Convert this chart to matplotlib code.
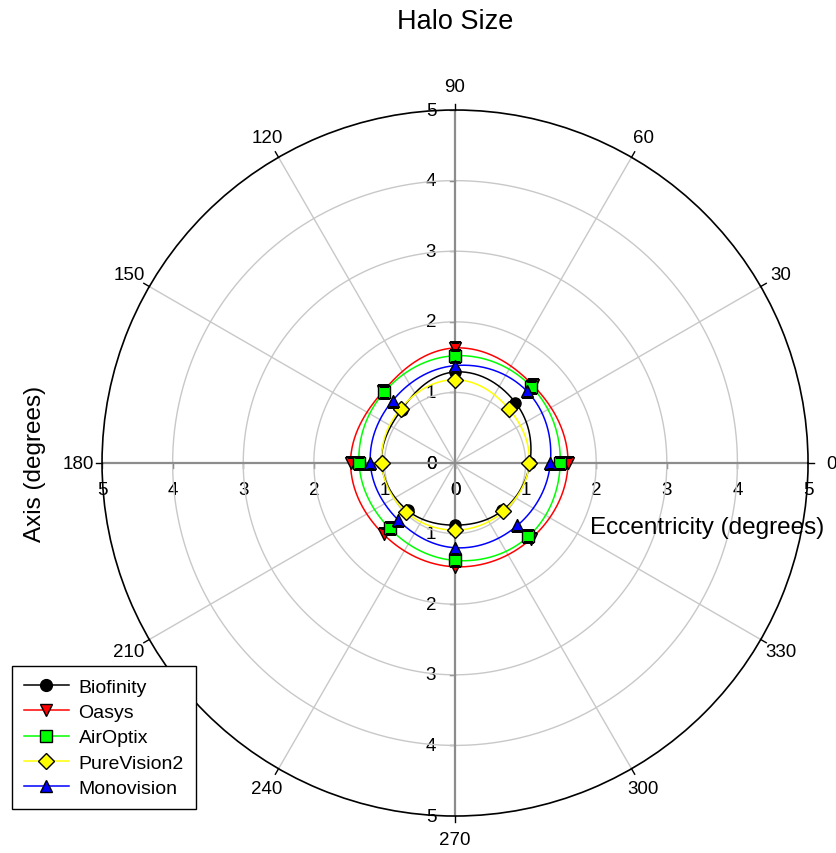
import numpy as np
import matplotlib
matplotlib.use("Agg")
import matplotlib.pyplot as plt
from matplotlib.lines import Line2D

plt.rcParams["font.family"] = ["Liberation Sans", "DejaVu Sans"]

# Halo size (eccentricity, degrees) measured at each meridian (axis, degrees)
angles_deg = [0, 45, 90, 135, 180, 225, 270, 315]
biofinity = [1.06, 1.21, 1.29, 1.07, 1.04, 0.95, 0.88, 0.95]
oasys = [1.60, 1.56, 1.63, 1.44, 1.48, 1.43, 1.47, 1.52]
airoptix = [1.49, 1.53, 1.52, 1.42, 1.36, 1.31, 1.38, 1.47]
purevision2 = [1.05, 1.08, 1.18, 1.09, 1.04, 0.98, 0.95, 0.97]
monovision = [1.35, 1.44, 1.38, 1.25, 1.20, 1.14, 1.20, 1.25]

series = [
    ("Biofinity", biofinity, "#000000", "o"),
    ("Oasys", oasys, "#ff0000", "v"),
    ("AirOptix", airoptix, "#00ff00", "s"),
    ("PureVision2", purevision2, "#ffff00", "D"),
    ("Monovision", monovision, "#0000ff", "^"),
]

R_MAX = 5
theta_ticks = np.arange(0, 360, 30)
r_ticks = [0, 1, 2, 3, 4, 5]


def smooth_closed(theta, r, n=48):
    """Periodic Catmull-Rom curve through (theta, r) for the connecting line."""
    r = np.asarray(r, dtype=float)
    m = len(r)
    dt = 2 * np.pi / m
    s = np.linspace(0, 1, n, endpoint=False)
    tt, rr = [], []
    for i in range(m):
        p0, p1, p2, p3 = r[(i - 1) % m], r[i], r[(i + 1) % m], r[(i + 2) % m]
        seg = 0.5 * (2 * p1 + (-p0 + p2) * s
                     + (2 * p0 - 5 * p1 + 4 * p2 - p3) * s ** 2
                     + (-p0 + 3 * p1 - 3 * p2 + p3) * s ** 3)
        tt.append(theta[i] + s * dt)
        rr.append(seg)
    tt = np.concatenate(tt + [[theta[0] + 2 * np.pi]])
    rr = np.concatenate(rr + [[r[0]]])
    return tt, rr


fig = plt.figure(figsize=(8.37, 8.54), dpi=100)
rect = [0.1219, 0.0433, 0.8435, 0.8267]

# cartesian overlay for radial-axis ticks and labels
cax = fig.add_axes(rect, zorder=0)
cax.set_xlim(-R_MAX, R_MAX)
cax.set_ylim(-R_MAX, R_MAX)
cax.axis("off")

ax = fig.add_axes(rect, projection="polar", zorder=1)
ax.patch.set_alpha(0)
ax.set_ylim(0, R_MAX)
ax.grid(False)
ax.set_xticks([])
ax.set_yticks([])
ax.spines["polar"].set_color("black")
ax.spines["polar"].set_linewidth(1.2)

full = np.linspace(0, 2 * np.pi, 400)
for rv in r_ticks[1:-1]:
    ax.plot(full, np.full_like(full, rv), color="#c8c8c8", lw=1.0, zorder=1)
for tdeg in theta_ticks:
    t = np.deg2rad(tdeg)
    if tdeg % 90 == 0:
        ax.plot([t, t], [0, R_MAX], color="#8c8c8c", lw=1.6, zorder=1.5)
    else:
        ax.plot([t, t], [0, R_MAX], color="#c8c8c8", lw=1.0, zorder=1)
    ax.plot([t, t], [R_MAX, R_MAX * 1.018], color="black", lw=1.0,
            clip_on=False, zorder=2)
    ax.text(t, 5.33, str(tdeg), ha="center", va="center", fontsize=13.5,
            clip_on=False)

# radial tick marks and labels along horizontal and vertical axes
tick_len = 0.07
for rv in r_ticks:
    for sign in (-1, 1):
        cax.plot([sign * rv, sign * rv], [0, -tick_len], color="#6e6e6e", lw=1.0)
        cax.text(sign * rv, -0.37, str(rv), ha="center", va="center",
                 fontsize=13.5)
        cax.plot([-tick_len, 0], [sign * rv, sign * rv], color="#6e6e6e", lw=1.0)
        cax.text(-0.34, sign * rv, str(rv), ha="center", va="center",
                 fontsize=13.5)

theta = np.deg2rad(angles_deg)
handles = []
for name, vals, color, marker in series:
    tt, rr = smooth_closed(theta, vals)
    ax.plot(tt, rr, color=color, lw=1.1, zorder=3)
    ax.plot(theta, vals, linestyle="none", marker=marker, markersize=8,
            markerfacecolor=color, markeredgecolor="black",
            markeredgewidth=1.0, zorder=4)
    handles.append(Line2D([0], [0], color=color, lw=1.1, marker=marker,
                          markersize=8.5, markerfacecolor=color,
                          markeredgecolor="black", markeredgewidth=1.0,
                          label=name))

fig.text(0.5436, 0.974, "Halo Size", ha="center", va="center", fontsize=19.5)
fig.text(0.845, 1 - 528 / 854, "Eccentricity (degrees)", ha="center",
         va="center", fontsize=17.5)
fig.text(0.042, 1 - 464 / 854, "Axis (degrees)", ha="center", va="center",
         rotation=90, fontsize=17.5)

leg = fig.legend(handles=handles, loc="upper left",
                 bbox_to_anchor=(12 / 837, 1 - 667 / 854), borderaxespad=0,
                 fontsize=14, frameon=True, fancybox=False, framealpha=1,
                 edgecolor="black", numpoints=1, handlelength=2.3,
                 handletextpad=0.5, labelspacing=0.4, borderpad=0.62)
leg.get_frame().set_linewidth(1.0)
leg.set_zorder(5)

fig.savefig("out.png", dpi=100)
